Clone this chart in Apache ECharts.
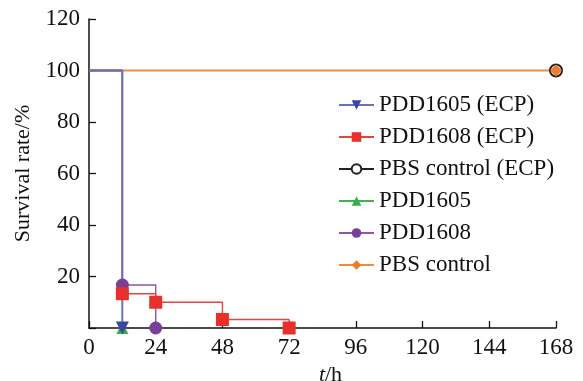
<!DOCTYPE html>
<html>
<head>
<meta charset="utf-8">
<script src="https://cdn.jsdelivr.net/npm/echarts@6/dist/echarts.min.js"></script>
<style>
  html, body { margin: 0; padding: 0; background: #fff; }
  #chart { width: 583px; height: 381px; }
</style>
</head>
<body>
<div id="chart"></div>
<script>
// survival (%) against time (h), one pair of arrays per group
const pdd1605EcpT = [0, 12]
const pdd1605EcpS = [100, 0]
const pdd1608EcpT = [0, 12, 24, 48, 72]
const pdd1608EcpS = [100, 13.3, 10, 3.3, 0]
const pbsEcpT = [0, 168]
const pbsEcpS = [100, 100]
const pdd1605T = [0, 12]
const pdd1605S = [100, 0]
const pdd1608T = [0, 12, 24]
const pdd1608S = [100, 16.7, 0]
const pbsT = [0, 168]
const pbsS = [100, 100]

const xTicks = [0, 24, 48, 72, 96, 120, 144, 168]
const yTicks = [0, 20, 40, 60, 80, 100, 120]

const legendNames = [
  'PDD1605 (ECP)',
  'PDD1608 (ECP)',
  'PBS control (ECP)',
  'PDD1605',
  'PDD1608',
  'PBS control',
]

const font = 'Liberation Serif'

// no marker at t = 0, markers on every event
function points(ts, ss) {
  return ts.map((t, i) => (i === 0 ? { value: [t, ss[i]], symbol: 'none' } : [t, ss[i]]))
}

function stepSeries(name, ts, ss, opts) {
  return Object.assign(
    {
      name,
      type: 'line',
      step: 'end',
      data: points(ts, ss),
      symbolSize: 12,
      lineStyle: { width: opts.width || 1.4, color: opts.line },
      itemStyle: { color: opts.marker },
      animation: false,
    },
    opts.extra,
  )
}

const chart = echarts.init(document.getElementById('chart'))
chart.setOption({
  backgroundColor: '#fff',
  grid: { left: 89, right: 27, top: 19, bottom: 53, outerBoundsMode: 'none' },
  legend: {
    data: legendNames,
    orient: 'vertical',
    left: 333,
    top: 88,
    itemWidth: 35,
    itemHeight: 12,
    itemGap: 8,
    textStyle: { fontFamily: font, fontSize: 23, color: '#111', lineHeight: 24 },
  },
  xAxis: {
    type: 'value',
    min: xTicks[0],
    max: xTicks[xTicks.length - 1],
    interval: 24,
    name: '{i|t}/h',
    nameLocation: 'middle',
    nameGap: 30,
    nameTextStyle: {
      fontFamily: font,
      fontSize: 22,
      color: '#111',
      padding: [0, 0, 0, 16],
      rich: { i: { fontFamily: font, fontSize: 22, fontStyle: 'italic', color: '#111' } },
    },
    axisLine: { lineStyle: { color: '#111', width: 1.5 } },
    axisTick: { inside: true, length: 7, lineStyle: { color: '#111', width: 1.3 } },
    axisLabel: { fontFamily: font, fontSize: 23, color: '#111', margin: 8 },
    splitLine: { show: false },
  },
  yAxis: {
    type: 'value',
    min: yTicks[0],
    max: yTicks[yTicks.length - 1],
    interval: 20,
    name: 'Survival rate/%',
    nameLocation: 'middle',
    nameGap: 46,
    nameTextStyle: { fontFamily: font, fontSize: 22, color: '#111' },
    axisLine: { lineStyle: { color: '#111', width: 1.5 } },
    axisTick: { inside: true, length: 7, lineStyle: { color: '#111', width: 1.3 } },
    axisLabel: {
      fontFamily: font,
      fontSize: 23,
      color: '#111',
      margin: 9,
      formatter: (v) => (v === 0 ? '' : v),
    },
    splitLine: { show: false },
  },
  series: [
    stepSeries('PBS control (ECP)', pbsEcpT, pbsEcpS, {
      line: '#222',
      marker: '#222',
      width: 1,
      extra: { symbol: 'emptyCircle', symbolSize: 12, itemStyle: { color: '#222', borderWidth: 1.3 } },
    }),
    stepSeries('PBS control', pbsT, pbsS, {
      line: '#f08a3c',
      marker: '#f07b2a',
      width: 1.8,
      extra: { symbol: 'diamond', symbolSize: 12 },
    }),
    stepSeries('PDD1608', pdd1608T, pdd1608S, {
      line: '#8a55aa',
      marker: '#7a3f98',
      extra: { symbol: 'circle', symbolSize: 13 },
    }),
    stepSeries('PDD1608 (ECP)', pdd1608EcpT, pdd1608EcpS, {
      line: '#e8443a',
      marker: '#e8302a',
      extra: { symbol: 'rect', symbolSize: 13 },
    }),
    stepSeries('PDD1605', pdd1605T, pdd1605S, {
      line: '#44b250',
      marker: '#3cb048',
      extra: { symbol: 'triangle', symbolSize: 12 },
    }),
    stepSeries('PDD1605 (ECP)', pdd1605EcpT, pdd1605EcpS, {
      line: '#6a6ec4',
      marker: '#3a46a0',
      width: 1.8,
      extra: { symbol: 'triangle', symbolRotate: 180, symbolSize: 13 },
    }),
  ],
})
</script>
</body>
</html>
